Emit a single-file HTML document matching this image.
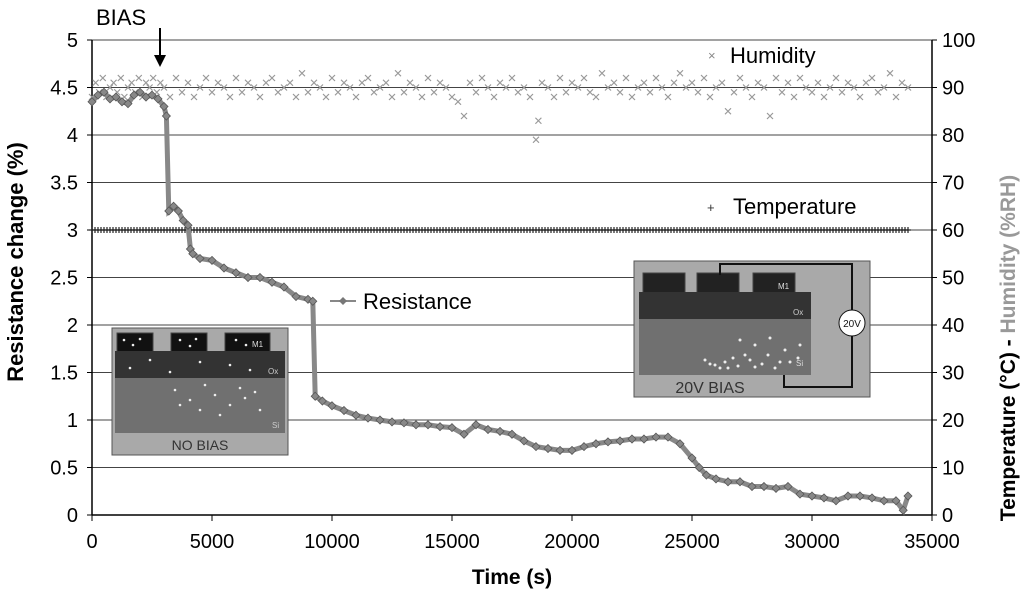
<!DOCTYPE html>
<html><head><meta charset="utf-8"><style>
body{margin:0;background:#fff;}
svg{display:block;font-family:"Liberation Sans",sans-serif;}
</style></head><body>
<svg id="chart" width="1024" height="590" viewBox="0 0 1024 590">
<g id="grid"></g>
<g id="axes"></g>
<g id="series"></g>
<g id="insets">
  <g>
    <rect x="112" y="328" width="176" height="127" fill="#a9a9a9" stroke="#555"/>
    <rect x="117" y="333" width="36" height="20" fill="#111" stroke="#444"/>
    <rect x="171" y="333" width="36" height="20" fill="#111" stroke="#444"/>
    <rect x="225" y="333" width="45" height="20" fill="#111" stroke="#444"/>
    <rect x="115" y="351" width="170" height="27" fill="#333"/>
    <rect x="115" y="378" width="170" height="55" fill="#707070"/>
    <text x="252" y="347" font-size="8" fill="#ddd">M1</text>
    <text x="268" y="374" font-size="8" fill="#ccc">Ox</text>
    <text x="272" y="428" font-size="8" fill="#ccc">Si</text>
    <text x="200" y="450" font-size="14" fill="#333" text-anchor="middle">NO BIAS</text>
    <g id="dots1" fill="#eee"></g>
  </g>
  <g>
    <rect x="634" y="261" width="236" height="136" fill="#a9a9a9" stroke="#555"/>
    <rect x="643" y="273" width="42" height="20" fill="#222" stroke="#444"/>
    <rect x="697" y="273" width="42" height="20" fill="#222" stroke="#444"/>
    <rect x="753" y="273" width="42" height="20" fill="#222" stroke="#444"/>
    <rect x="639" y="292" width="172" height="27" fill="#333"/>
    <rect x="639" y="319" width="172" height="56" fill="#707070"/>
    <text x="778" y="289" font-size="8" fill="#ddd">M1</text>
    <text x="793" y="315" font-size="8" fill="#ccc">Ox</text>
    <text x="796" y="366" font-size="8" fill="#ddd">Si</text>
    <text x="710" y="393" font-size="16" fill="#333" text-anchor="middle">20V BIAS</text>
    <polyline points="720,275 720,264 852,264 852,310" fill="none" stroke="#111" stroke-width="2"/>
    <polyline points="852,336 852,387 784,387 784,375" fill="none" stroke="#111" stroke-width="2"/>
    <circle cx="852" cy="323" r="13" fill="#fff" stroke="#111"/>
    <text x="852" y="327" font-size="10" text-anchor="middle" fill="#111">20V</text>
    <g id="dots2" fill="#eee"></g>
  </g>
</g>
<g id="labels">
  <text x="96" y="25" font-size="22">BIAS</text>
  <line x1="160" y1="28" x2="160" y2="58" stroke="#000" stroke-width="2"/>
  <polygon points="154,55 166,55 160,67" fill="#000"/>
  <text x="730" y="63" font-size="22">Humidity</text>
  <text x="708" y="60" font-size="13" fill="#888">×</text>
  <text x="733" y="214" font-size="22">Temperature</text>
  <text x="707" y="212" font-size="13" fill="#333">+</text>
  <text x="363" y="309" font-size="22">Resistance</text>
  <line x1="330" y1="301" x2="356" y2="301" stroke="#888" stroke-width="2"/>
  <polygon points="343,297 347,301 343,305 339,301" fill="#777"/>
  <text transform="translate(23,262) rotate(-90)" text-anchor="middle" font-size="22" font-weight="bold">Resistance change (%)</text>
  <text transform="translate(1015,348) rotate(-90)" text-anchor="middle" font-size="21" font-weight="bold">Temperature (°C) - <tspan fill="#999">Humidity (%RH)</tspan></text>
  <text x="512" y="584" text-anchor="middle" font-size="21" font-weight="bold">Time (s)</text>
</g>
</svg>
<script>
const xTicks=[0,5000,10000,15000,20000,25000,30000,35000];
const yTicks=[0,0.5,1,1.5,2,2.5,3,3.5,4,4.5,5];
const y2Ticks=[0,10,20,30,40,50,60,70,80,90,100];
const resTime=[0,250,500,750,1000,1250,1500,1750,2000,2250,2500,2750,3000,3100,3200,3400,3600,3800,4000,4100,4200,4500,5000,5500,6000,6500,7000,7500,8000,8500,9000,9200,9300,9600,10000,10500,11000,11500,12000,12500,13000,13500,14000,14500,15000,15500,16000,16500,17000,17500,18000,18500,19000,19500,20000,20500,21000,21500,22000,22500,23000,23500,24000,24500,25000,25300,25600,26000,26500,27000,27500,28000,28500,29000,29500,30000,30500,31000,31500,32000,32500,33000,33500,33800,34000];
const resValue=[4.35,4.42,4.45,4.38,4.4,4.35,4.33,4.42,4.45,4.4,4.42,4.38,4.3,4.2,3.2,3.25,3.2,3.1,3.05,2.8,2.75,2.7,2.68,2.6,2.55,2.5,2.5,2.45,2.4,2.3,2.27,2.25,1.25,1.2,1.15,1.1,1.05,1.02,1.0,0.98,0.97,0.95,0.95,0.93,0.92,0.85,0.95,0.9,0.88,0.85,0.78,0.72,0.7,0.68,0.68,0.72,0.75,0.77,0.78,0.8,0.8,0.82,0.82,0.75,0.6,0.5,0.42,0.38,0.35,0.35,0.3,0.3,0.28,0.3,0.22,0.2,0.18,0.15,0.2,0.2,0.18,0.15,0.15,0.05,0.2];
const humTime=[0,150,300,450,600,750,900,1050,1200,1350,1500,1650,1800,1950,2100,2250,2400,2550,2700,2850,3000,3250,3500,3750,4000,4250,4500,4750,5000,5250,5500,5750,6000,6250,6500,6750,7000,7250,7500,7750,8000,8250,8500,8750,9000,9250,9500,9750,10000,10250,10500,10750,11000,11250,11500,11750,12000,12250,12500,12750,13000,13250,13500,13750,14000,14250,14500,14750,15000,15250,15500,15750,16000,16250,16500,16750,17000,17250,17500,17750,18000,18250,18500,18600,18750,19000,19250,19500,19750,20000,20250,20500,20750,21000,21250,21500,21750,22000,22250,22500,22750,23000,23250,23500,23750,24000,24250,24500,24750,25000,25250,25500,25750,26000,26250,26500,26750,27000,27250,27500,27750,28000,28250,28500,28750,29000,29250,29500,29750,30000,30250,30500,30750,31000,31250,31500,31750,32000,32250,32500,32750,33000,33250,33500,33750,34000];
const humValue=[88,91,89,92,88,90,91,89,92,88,90,91,89,92,88,91,90,92,89,91,90,88,92,89,91,88,90,92,89,91,90,88,92,89,91,90,88,91,92,89,90,91,88,93,89,91,90,88,92,89,91,90,88,91,92,89,90,91,88,93,89,91,90,88,92,89,91,90,88,87,84,91,89,92,90,88,91,90,92,89,90,88,79,83,91,90,88,92,89,91,90,92,89,88,93,90,91,89,92,88,90,91,89,92,90,88,91,93,90,91,89,92,88,90,91,85,89,92,90,88,91,90,84,92,89,91,88,92,90,89,91,88,90,92,89,91,90,88,91,92,89,90,93,88,91,90];
const tempTime=[];const tempValue=[];
for(let t=0;t<=34000;t+=125){tempTime.push(t);tempValue.push(60);}
const X0=92,X1=932,Y0=515,Y1=40;
const sx=v=>X0+(v/35000)*(X1-X0);
const sy=v=>Y0-(v/5)*(Y0-Y1);
const sy2=v=>Y0-(v/100)*(Y0-Y1);
const NS="http://www.w3.org/2000/svg";
function mk(tag,attrs,parent){const e=document.createElementNS(NS,tag);for(const k in attrs)e.setAttribute(k,attrs[k]);parent.appendChild(e);return e;}
const grid=document.getElementById('grid'),axes=document.getElementById('axes'),series=document.getElementById('series');
yTicks.forEach(v=>{
  if(v>0){const g=mk('line',{x1:X0,x2:X1,y1:sy(v),y2:sy(v),stroke:'#444','stroke-width':1},grid);
  
  }
  const t=mk('text',{x:X0-14,y:sy(v)+7,'text-anchor':'end','font-size':20},axes);t.textContent=v;
  
  
  mk('line',{x1:X0-5,x2:X0,y1:sy(v),y2:sy(v),stroke:'#000'},axes);
});
y2Ticks.forEach(v=>{
  const t=mk('text',{x:X1+10,y:sy2(v)+7,'font-size':20},axes);t.textContent=v;
  
  
  mk('line',{x1:X1,x2:X1+5,y1:sy2(v),y2:sy2(v),stroke:'#000'},axes);
});
xTicks.forEach(v=>{
  const t=mk('text',{x:sx(v),y:Y0+33,'text-anchor':'middle','font-size':20},axes);t.textContent=v;
  
  
  mk('line',{x1:sx(v),x2:sx(v),y1:Y0,y2:Y0+6,stroke:'#000'},axes);
});
mk('line',{x1:X0,x2:X0,y1:Y1,y2:Y0,stroke:'#000','stroke-width':1.5},axes);
mk('line',{x1:X1,x2:X1,y1:Y1,y2:Y0,stroke:'#000','stroke-width':1.5},axes);
mk('line',{x1:X0,x2:X1,y1:Y0,y2:Y0,stroke:'#000','stroke-width':1.5},axes);
tempTime.forEach((t,i)=>{const x=sx(t),y=sy2(tempValue[i]);
  const p=mk('path',{d:`M${x-3},${y}h6M${x},${y-3}v6`,stroke:'#222','stroke-width':1.2},series);
  
  });
humTime.forEach((t,i)=>{const x=sx(t),y=sy2(humValue[i]);
  const p=mk('path',{d:`M${x-3},${y-3}l6,6M${x+3},${y-3}l-6,6`,stroke:'#999','stroke-width':1.2},series);
  
  });
const pl=mk('polyline',{points:resTime.map((t,i)=>sx(t)+','+sy(resValue[i])).join(' '),fill:'none',stroke:'#888','stroke-width':5},series);


resTime.forEach((t,i)=>{const x=sx(t),y=sy(resValue[i]);
  const p=mk('polygon',{points:`${x},${y-4} ${x+4},${y} ${x},${y+4} ${x-4},${y}`,fill:'#888',stroke:'#555','stroke-width':0.8},series);
  
  });
const d1=[[124,340],[133,345],[140,339],[180,340],[190,346],[196,339],[236,340],[246,345],[130,368],[150,360],[170,372],[200,362],[230,365],[250,370],[175,390],[190,400],[200,410],[215,395],[230,405],[245,398],[260,410],[220,415],[205,385],[240,388],[180,405],[255,392]];
d1.forEach(p=>mk('circle',{cx:p[0],cy:p[1],r:1.3},document.getElementById('dots1')));
const d2=[[740,340],[755,345],[770,338],[785,350],[800,345],[705,360],[715,365],[725,362],[738,366],[750,360],[762,364],[775,368],[790,362],[745,355],[768,355],[720,368],[733,358],[798,358],[710,364],[728,368],[755,367],[780,362]];
d2.forEach(p=>mk('circle',{cx:p[0],cy:p[1],r:1.5},document.getElementById('dots2')));
</script>
</body></html>
